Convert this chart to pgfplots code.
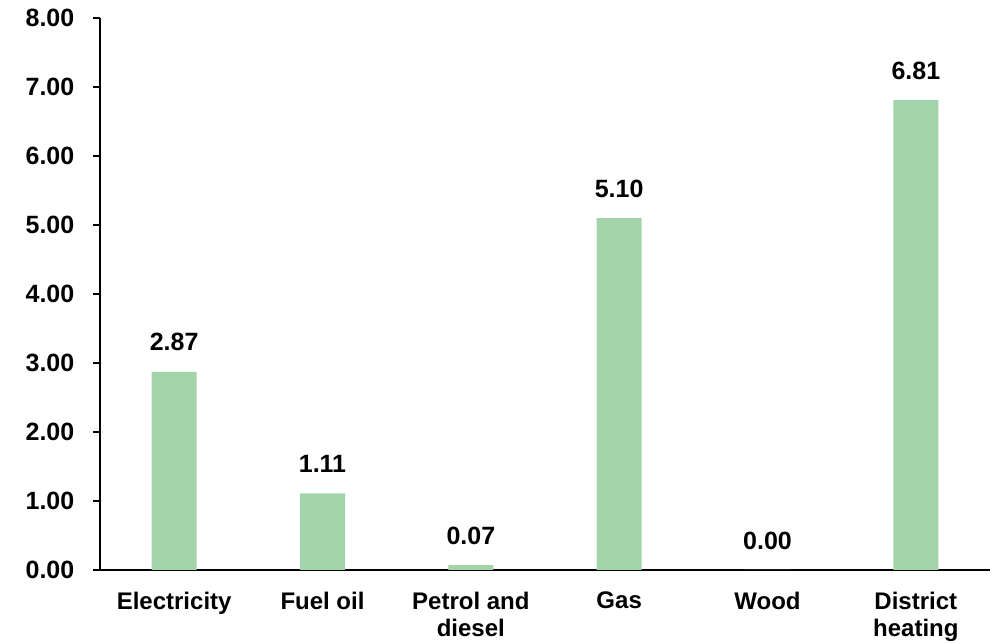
\documentclass[border=0pt]{standalone}
\usepackage{fontspec}
\setmainfont{Liberation Sans}
\usepackage{pgfplots}
\pgfplotsset{compat=1.18}
\definecolor{barg}{HTML}{A3D3A8}
\begin{document}
\fontsize{12.5}{15}\selectfont\bfseries
\begin{tikzpicture}
\begin{axis}[
  scale only axis,
  width=445pt, height=276pt,
  xmin=-0.5, xmax=5.5,
  ymin=0, ymax=8,
  axis x line*=bottom,
  axis y line*=left,
  axis line style={black, line width=0.9pt},
  x axis line style={shorten <=-3.5pt},
  xtick=data,
  xticklabels={Electricity,Fuel oil,{Petrol and\\diesel},Gas,Wood,{District\\heating}},
  xticklabel style={align=center, font=\fontsize{12}{13.5}\selectfont\bfseries, yshift=-3pt},
  x tick style={draw=none},
  ytick={0,1,...,8},
  yticklabel={\pgfmathprintnumber[fixed,fixed zerofill,precision=2]{\tick}},
  yticklabel style={font=\fontsize{12.5}{15}\selectfont\bfseries, xshift=-5pt},
  /pgf/number format/assume math mode=true,
  y tick style={black, line width=0.9pt},
  major tick length=3.5pt,
  tick align=outside,
  ybar, bar width=22.5pt,
  nodes near coords={\pgfmathprintnumber[fixed,fixed zerofill,precision=2]{\pgfplotspointmeta}},
  nodes near coords style={font=\fontsize{12.5}{15}\selectfont\bfseries, anchor=south, yshift=6pt},
  clip=false,
]
\addplot[fill=barg, draw=none] coordinates {(0,2.87) (1,1.11) (2,0.07) (3,5.10) (4,0.00) (5,6.81)};
\coordinate (ll) at (rel axis cs:0,0);
\coordinate (ur) at (rel axis cs:1,1);
\end{axis}
\pgfresetboundingbox
\path ([shift={(-50pt,-37pt)}]ll) rectangle ([shift={(4.5pt,9pt)}]ur);
\end{tikzpicture}
\end{document}
